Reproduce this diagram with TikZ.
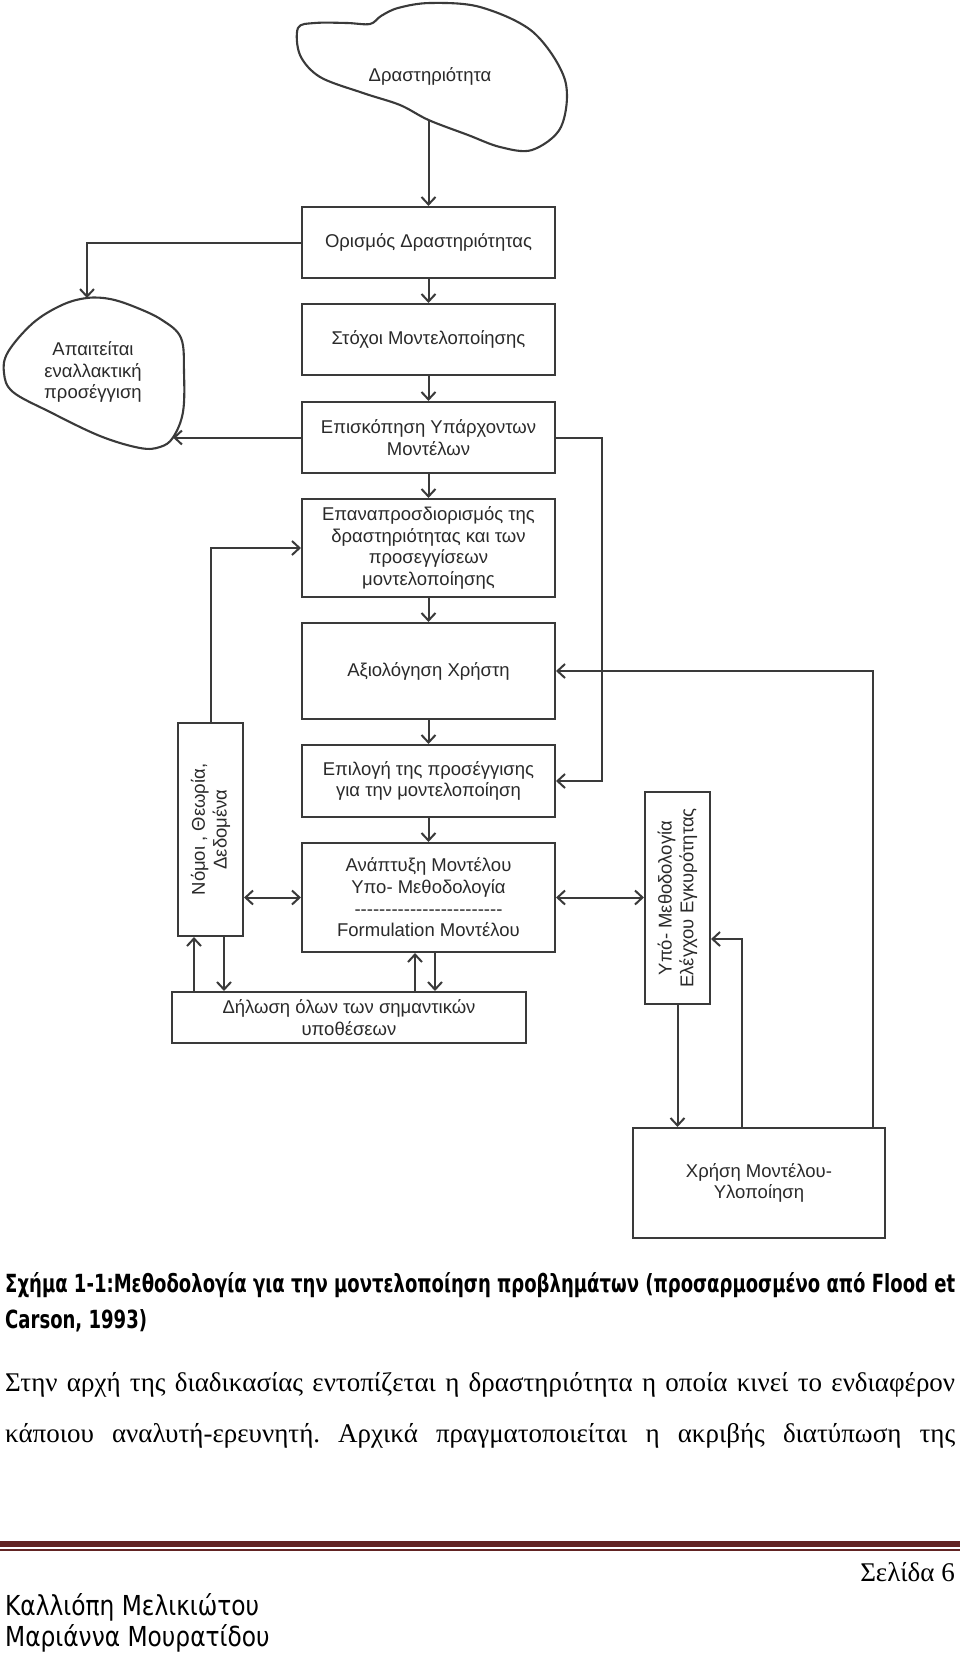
\documentclass[tikz,border=0pt]{standalone}
\usepackage{fontspec}
\usepackage{graphicx}
\setmainfont{Liberation Serif}
\newfontfamily\diagfont{Liberation Sans}
\newfontfamily\capfont{DejaVu Sans}
\usetikzlibrary{arrows.meta}
\definecolor{linec}{HTML}{3A3A3A}
\definecolor{textc}{HTML}{2A2A2A}
\definecolor{rulec}{HTML}{622423}
\newcommand\dfont{\diagfont\fontsize{18.5}{21.7}\selectfont}
\newcommand\hy{-\kern0pt}
\newcommand\dashrow{\hy\hy\hy\hy\hy\hy\hy\hy\hy\hy\hy\hy\hy\hy\hy\hy\hy\hy\hy\hy\hy\hy\hy\hy}
\newsavebox\capA
\newsavebox\nameA
\newdimen\tmpdA
\newdimen\tmpdB
\frenchspacing
\begin{document}
\sbox\capA{\capfont\bfseries\fontsize{25}{30}\selectfont Σχήμα 1-1:Μεθοδολογία για την μοντελοποίηση προβλημάτων (προσαρμοσμένο από Flood et}%
\tmpdA=\wd\capA
\pgfmathsetmacro\capsc{950/\tmpdA}%
\sbox\nameA{\capfont\fontsize{27.5}{30}\selectfont Καλλιόπη Μελικιώτου}%
\tmpdB=\wd\nameA
\pgfmathsetmacro\namesc{254/\tmpdB}%
\begin{tikzpicture}[x=1pt,y=-1pt,
  box/.style={draw=linec, line width=2.1pt, minimum width=253pt, align=center, text=textc, inner sep=0pt, font=\dfont},
  conn/.style={draw=linec, line width=2pt, -{Straight Barb[length=7.5pt,width=14pt]}},
  conn2/.style={draw=linec, line width=2pt, {Straight Barb[length=7.5pt,width=14pt]}-{Straight Barb[length=7.5pt,width=14pt]}},
  lbl/.style={align=center, text=textc, inner sep=0pt, font=\dfont},
  blob/.style={draw=linec, line width=2.1pt}]
\useasboundingbox (0,0) rectangle (960,1654);
\fill[white] (0,0) rectangle (960,1654);

% blobs
\draw[blob] plot[smooth cycle, tension=0.55] coordinates {(298,28) (315,23) (347,23) (370,24) (381,16) (398,8) (430,3) (480,7) (533,32) (565,80) (561,127) (532,150) (500,147) (468,135) (428.5,120) (400,105) (363,93) (320,77) (300,55)};
\coordinate (b1bot) at (428.5,120);
\node[lbl] (blob1) at (430,76) {Δραστηριότητα};

\draw[blob] plot[smooth cycle, tension=0.6] coordinates {(87,298) (110,299) (135,307) (162,320) (181,338) (184,372) (183,412) (173,437.5) (160,447) (140,448) (100,436) (50,412) (13,392) (4,373) (8,352) (33,323) (62,305)};
\coordinate (b2top) at (87,298);
\coordinate (b2right) at (173,437.5);
\node[lbl] (blob2) at (93,372) {Απαιτείται\\εναλλακτική\\προσέγγιση};

% boxes
\node[box, minimum height=71pt] (ord) at (428.5,242.5) {Ορισμός Δραστηριότητας};
\node[box, minimum height=71pt] (stox) at (428.5,339.5) {Στόχοι Μοντελοποίησης};
\node[box, minimum height=71pt] (episk) at (428.5,437.5) {Επισκόπηση Υπάρχοντων\\Μοντέλων};
\node[box, minimum height=98pt] (epan) at (428.5,548) {Επαναπροσδιορισμός της\\δραστηριότητας και των\\προσεγγίσεων\\μοντελοποίησης};
\node[box, minimum height=96pt] (axiol) at (428.5,671) {Αξιολόγηση Χρήστη};
\node[box, minimum height=72pt] (epil) at (428.5,781) {Επιλογή της προσέγγισης\\για την μοντελοποίηση};
\node[box, minimum height=109pt] (anapt) at (428.5,897.5) {Ανάπτυξη Μοντέλου\\Υπο- Μεθοδολογία\\\dashrow\\Formulation Μοντέλου};
\node[box, minimum width=65pt, minimum height=213pt] (nomoi) at (210.5,829.5) {};
\node[lbl, rotate=90] (nomoiT) at (nomoi.center) {Νόμοι , Θεωρία,\\Δεδομένα};
\node[box, minimum width=354pt, minimum height=51pt] (dil) at (349,1017.5) {Δήλωση όλων των σημαντικών\\υποθέσεων};
\node[box, minimum width=65pt, minimum height=212pt] (ypo) at (677.5,898) {};
\node[lbl, rotate=90] (ypoT) at (ypo.center) {Υπό- Μεθοδολογία\\Ελέγχου Εγκυρότητας};
\node[box, minimum width=252pt, minimum height=110pt] (xr) at (759,1183) {Χρήση Μοντέλου-\\Υλοποίηση};

% connectors
\draw[conn] (b1bot) -- (ord.north);
\draw[conn] (ord) -- (stox);
\draw[conn] (stox) -- (episk);
\draw[conn] (episk) -- (epan);
\draw[conn] (epan) -- (axiol);
\draw[conn] (axiol) -- (epil);
\draw[conn] (epil) -- (anapt);
\draw[conn] (ord.west) -| (b2top);
\draw[conn] (episk.west) -- (b2right);
\draw[conn] (episk.east) -- ++(45.5,0) |- (epil.east);
\draw[conn] (nomoi.north) |- (epan.west);
\draw[conn2] (nomoi.east |- anapt.west) -- (anapt.west);
\coordinate (n1) at ([xshift=-16.5pt]nomoi.south);
\coordinate (n2) at ([xshift=13.5pt]nomoi.south);
\draw[conn] (n1 |- dil.north) -- (n1);
\draw[conn] (n2) -- (n2 |- dil.north);
\coordinate (a1) at ([xshift=-13.5pt]anapt.south);
\coordinate (a2) at ([xshift=6.5pt]anapt.south);
\draw[conn] (a1 |- dil.north) -- (a1);
\draw[conn] (a2) -- (a2 |- dil.north);
\draw[conn2] (anapt.east) -- (ypo.west |- anapt.east);
\draw[conn] (ypo.south) -- (ypo.south |- xr.north);
\coordinate (x1) at ([xshift=-17pt]xr.north);
\coordinate (x2) at ([xshift=114pt]xr.north);
\draw[conn] (x1) |- ([yshift=-41pt]ypo.east);
\draw[conn] (x2) |- (axiol.east);

% caption
\node[anchor=base west, inner sep=0pt] (cap1) at (5,1292) {\scalebox{\capsc}[1]{\usebox\capA}};
\node[anchor=base west, inner sep=0pt] (cap2) at (5,1328) {\scalebox{\capsc}[1]{\capfont\bfseries\fontsize{25}{30}\selectfont Carson, 1993)}};

% body text
\node[anchor=base west, inner sep=0pt] (body1) at (5,1391) {\fontsize{27}{30}\selectfont\makebox[950pt][s]{Στην αρχή της διαδικασίας εντοπίζεται η δραστηριότητα η οποία κινεί το ενδιαφέρον}};
\node[anchor=base west, inner sep=0pt] (body2) at (5,1442) {\fontsize{27}{30}\selectfont\makebox[950pt][s]{κάποιου αναλυτή-ερευνητή. Αρχικά πραγματοποιείται η ακριβής διατύπωση της}};

% footer
\fill[rulec] (0,1541) rectangle (960,1547);
\draw[rulec, line width=1.2pt] (0,1550) -- (960,1550);
\node[anchor=base east, inner sep=0pt] (page) at (955,1581) {\fontsize{27}{30}\selectfont Σελίδα 6};
\node[anchor=base west, inner sep=0pt] (name1) at (5,1615) {\scalebox{\namesc}[1]{\usebox\nameA}};
\node[anchor=base west, inner sep=0pt] (name2) at (5,1646) {\scalebox{\namesc}[1]{\capfont\fontsize{27.5}{30}\selectfont Μαριάννα Μουρατίδου}};
\end{tikzpicture}
\end{document}
